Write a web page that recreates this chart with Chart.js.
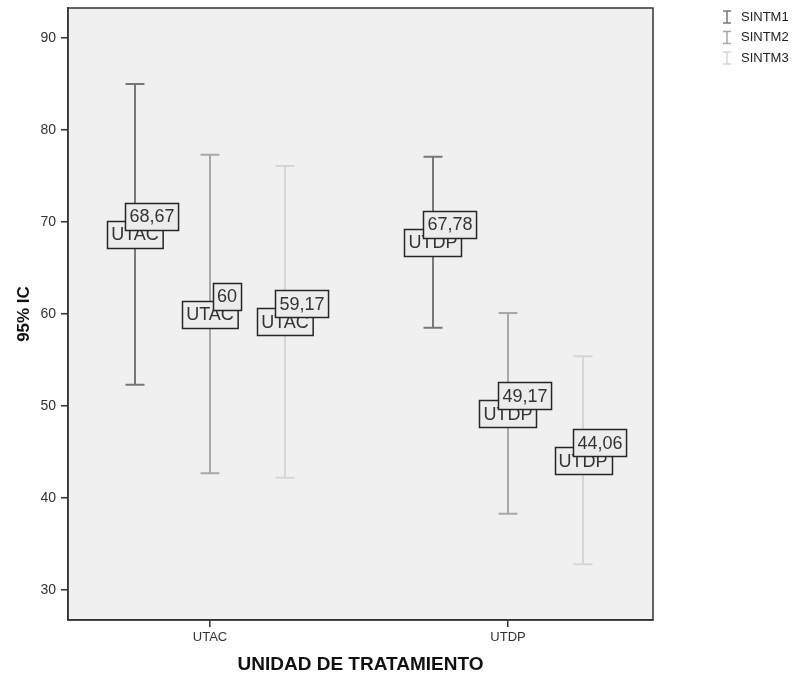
<!DOCTYPE html>
<html>
<head>
<meta charset="utf-8">
<script src="https://cdn.jsdelivr.net/npm/chart.js@4/dist/chart.umd.min.js"></script>
<style>
html,body{margin:0;padding:0;background:#fff;}
#wrap{width:796px;height:679px;position:relative;}
</style>
</head>
<body>
<div id="wrap"><canvas id="c" width="796" height="679"></canvas></div>
<script>
// ---- data ----
const categories = ['UTAC', 'UTDP'];
const seriesNames = ['SINTM1', 'SINTM2', 'SINTM3'];
const sintm1Mean = [68.67, 67.78];
const sintm2Mean = [60, 49.17];
const sintm3Mean = [59.17, 44.06];
const sintm1Upper = [85.0, 77.1];
const sintm2Upper = [77.3, 60.1];
const sintm3Upper = [76.1, 55.4];
const sintm1Lower = [52.3, 58.5];
const sintm2Lower = [42.7, 38.3];
const sintm3Lower = [42.2, 32.8];
const sintm1Text = ['68,67', '67,78'];
const sintm2Text = ['60', '49,17'];
const sintm3Text = ['59,17', '44,06'];
const yTicks = [30, 40, 50, 60, 70, 80, 90];

const seriesColors = ['#777777', '#a8a8a8', '#d6d6d6'];
const offsets = [-0.2517, 0, 0.2517];
const means = [sintm1Mean, sintm2Mean, sintm3Mean];
const uppers = [sintm1Upper, sintm2Upper, sintm3Upper];
const lowers = [sintm1Lower, sintm2Lower, sintm3Lower];
const texts = [sintm1Text, sintm2Text, sintm3Text];

const datasets = seriesNames.map((name, s) => ({
  label: name,
  data: categories.map((c, i) => ({x: i + offsets[s], y: means[s][i]})),
  pointRadius: 0,
  borderColor: seriesColors[s],
  backgroundColor: seriesColors[s]
}));

function boxLabel(ctx, text, cx, cy, h) {
  ctx.font = '18px "Liberation Sans", Arial, sans-serif';
  const w = ctx.measureText(text).width + 8;
  const x = Math.round(cx - w / 2) + 0.5, y = Math.round(cy - h / 2) + 0.5;
  ctx.fillStyle = '#ececec';
  ctx.fillRect(x, y, w, h);
  ctx.strokeStyle = '#262626';
  ctx.lineWidth = 1.5;
  ctx.strokeRect(x, y, w, h);
  ctx.fillStyle = '#333';
  ctx.textAlign = 'center';
  ctx.textBaseline = 'middle';
  ctx.fillText(text, cx, cy + 1);
}

const plugin = {
  id: 'errbars',
  beforeDraw(chart) {
    const {ctx, chartArea: a} = chart;
    ctx.save();
    ctx.fillStyle = '#f0f0f0';
    ctx.fillRect(a.left, a.top, a.right - a.left, a.bottom - a.top);
    ctx.restore();
  },
  afterDatasetsDraw(chart) {
    const {ctx} = chart;
    const xs = chart.scales.x, ys = chart.scales.y;
    ctx.save();
    seriesNames.forEach((n, s) => {
      categories.forEach((c, i) => {
        const px = Math.round(xs.getPixelForValue(i + offsets[s]));
        const pu = ys.getPixelForValue(uppers[s][i]);
        const pl = ys.getPixelForValue(lowers[s][i]);
        ctx.strokeStyle = seriesColors[s];
        ctx.lineWidth = 2;
        ctx.beginPath();
        ctx.moveTo(px, pu); ctx.lineTo(px, pl);
        ctx.moveTo(px - 9.5, pu); ctx.lineTo(px + 9.5, pu);
        ctx.moveTo(px - 9.5, pl); ctx.lineTo(px + 9.5, pl);
        ctx.stroke();
      });
    });
    seriesNames.forEach((n, s) => {
      categories.forEach((c, i) => {
        const px = xs.getPixelForValue(i + offsets[s]);
        const py = ys.getPixelForValue(means[s][i]);
        boxLabel(ctx, c, px, py, 27);
        boxLabel(ctx, texts[s][i], px + 17, py - 18, 27);
      });
    });
    ctx.restore();
  },
  afterDraw(chart) {
    const {ctx, chartArea: a} = chart;
    ctx.save();
    ctx.strokeStyle = '#333';
    ctx.lineWidth = 1.5;
    ctx.strokeRect(a.left, a.top, a.right - a.left, a.bottom - a.top);
    seriesNames.forEach((n, s) => {
      const y = 17 + s * 20.5;
      const x = 727;
      ctx.strokeStyle = seriesColors[s];
      ctx.lineWidth = 1.5;
      ctx.beginPath();
      ctx.moveTo(x, y - 6); ctx.lineTo(x, y + 6);
      ctx.moveTo(x - 4, y - 6); ctx.lineTo(x + 4, y - 6);
      ctx.moveTo(x - 4, y + 6); ctx.lineTo(x + 4, y + 6);
      ctx.stroke();
      ctx.fillStyle = '#222';
      ctx.font = '13px "Liberation Sans", Arial, sans-serif';
      ctx.textAlign = 'left';
      ctx.textBaseline = 'middle';
      ctx.fillText(n, 741, y);
    });
    ctx.restore();
  }
};

new Chart(document.getElementById('c'), {
  type: 'scatter',
  data: {datasets},
  plugins: [plugin],
  options: {
    responsive: false,
    animation: false,
    layout: {padding: {top: 0, right: 143, left: 0, bottom: 0}},
    plugins: {legend: {display: false}, tooltip: {enabled: false}},
    scales: {
      x: {
        type: 'linear',
        min: -0.4765, max: 1.4866,
        afterBuildTicks(sc) { sc.ticks = categories.map((c, i) => ({value: i})); },
        afterFit(sc) { sc.height = 59; },
        ticks: {
          callback: (v) => categories[v] !== undefined ? categories[v] : '',
          color: '#333', font: {size: 13, family: '"Liberation Sans", Arial, sans-serif'}, padding: 3,
          maxRotation: 0
        },
        grid: {display: true, drawOnChartArea: false, drawTicks: true, tickLength: 7, color: '#333', lineWidth: 1.5},
        border: {display: true, color: '#333', width: 1.5},
        title: {display: true, text: 'UNIDAD DE TRATAMIENTO', color: '#111',
          font: {size: 19, weight: 'bold', family: '"Liberation Sans", Arial, sans-serif'}, padding: {top: 0, bottom: 3}}
      },
      y: {
        type: 'linear',
        min: 26.74, max: 93.26,
        afterBuildTicks(sc) { sc.ticks = yTicks.map(v => ({value: v})); },
        afterFit(sc) { sc.width = 68; sc.paddingTop = 8; },
        ticks: {color: '#333', font: {size: 14, family: '"Liberation Sans", Arial, sans-serif'}, padding: 5},
        grid: {display: true, drawOnChartArea: false, drawTicks: true, tickLength: 7, color: '#333', lineWidth: 1.5},
        border: {display: true, color: '#333', width: 1.5},
        title: {display: true, text: '95% IC', color: '#111',
          font: {size: 17, weight: 'bold', family: '"Liberation Sans", Arial, sans-serif'}, padding: {top: 14, bottom: 0}}
      }
    }
  }
});
</script>
</body>
</html>
